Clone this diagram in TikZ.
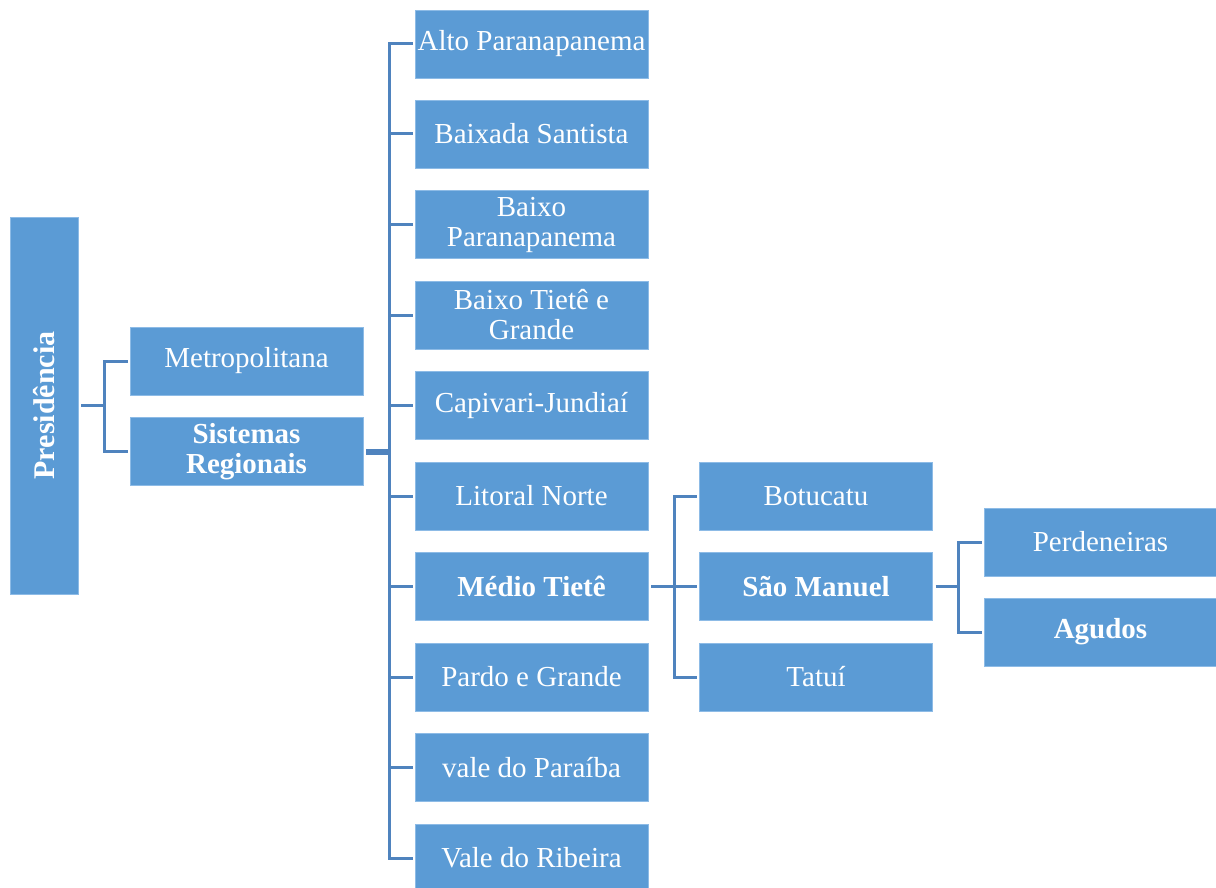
\documentclass[tikz,border=0pt]{standalone}
\usepackage{fontspec}
\setmainfont{Liberation Serif}
\usetikzlibrary{calc}
\definecolor{boxfill}{HTML}{5B9BD5}
\definecolor{boxedge}{HTML}{8DBBE6}
\definecolor{linecol}{HTML}{4F83BE}
\begin{document}
\begin{tikzpicture}[x=1pt,y=-1pt,
  box/.style={fill=boxfill, draw=boxedge, line width=0.8pt, text=white,
    minimum width=233pt, minimum height=68pt, align=center, inner sep=2pt,
    font=\fontsize{29}{30}\selectfont},
  boldbox/.style={box, font=\fontsize{29}{30}\selectfont\bfseries},
  conn/.style={draw=linecol, line width=3pt, shorten >=2pt, shorten <=3pt},
  thickconn/.style={draw=linecol, line width=6pt, shorten <=3pt}]
\useasboundingbox (0,0) rectangle (1216,888);
\clip (0,0) rectangle (1216,888);
% level 0
\node[boldbox, minimum width=377pt, rotate=90, font=\fontsize{30}{30}\selectfont\bfseries] (pres) at (44,405.5) {Presidência};
% level 1
\node[box] (metro) at (246.5,361) {Metropolitana};
\node[boldbox] (sis) at (246.5,451.5) {Sistemas\\Regionais};
% level 2
\node[box] (r1) at (531.5,44) {Alto Paranapanema};
\node[box] (r2) at (531.5,134) {Baixada Santista};
\node[box] (r3) at (531.5,224.5) {Baixo\\Paranapanema};
\node[box] (r4) at (531.5,315) {Baixo Tietê e\\Grande};
\node[box] (r5) at (531.5,405.5) {Capivari-Jundiaí};
\node[box] (r6) at (531.5,496) {Litoral Norte};
\node[boldbox] (r7) at (531.5,586.5) {Médio Tietê};
\node[box] (r8) at (531.5,677) {Pardo e Grande};
\node[box] (r9) at (531.5,767.5) {vale do Paraíba};
\node[box] (r10) at (531.5,858) {Vale do Ribeira};
% level 3
\node[box] (botu) at (816,496) {Botucatu};
\node[boldbox] (saom) at (816,586.5) {São Manuel};
\node[box] (tatui) at (816,677) {Tatuí};
% level 4
\node[box] (perd) at (1100.5,542) {Perdeneiras};
\node[boldbox] (agud) at (1100.5,632) {Agudos};
% connectors
\draw[conn] (pres.south) -- ++(26,0) |- (metro.west);
\draw[conn] (pres.south) -- ++(26,0) |- (sis.west);
\draw[thickconn] (sis.east) -- ++(26,0) coordinate (hub);
\foreach \r in {r1,r2,r3,r4,r5,r6,r7,r8,r9,r10}
  \draw[conn, shorten <=0pt] (hub) |- (\r.west);
\draw[conn] (r7.east) -- ++(26,0) |- (botu.west);
\draw[conn] (r7.east) -- ++(26,0) |- (saom.west);
\draw[conn] (r7.east) -- ++(26,0) |- (tatui.west);
\draw[conn] (saom.east) -- ++(26,0) |- (perd.west);
\draw[conn] (saom.east) -- ++(26,0) |- (agud.west);
\end{tikzpicture}
\end{document}
